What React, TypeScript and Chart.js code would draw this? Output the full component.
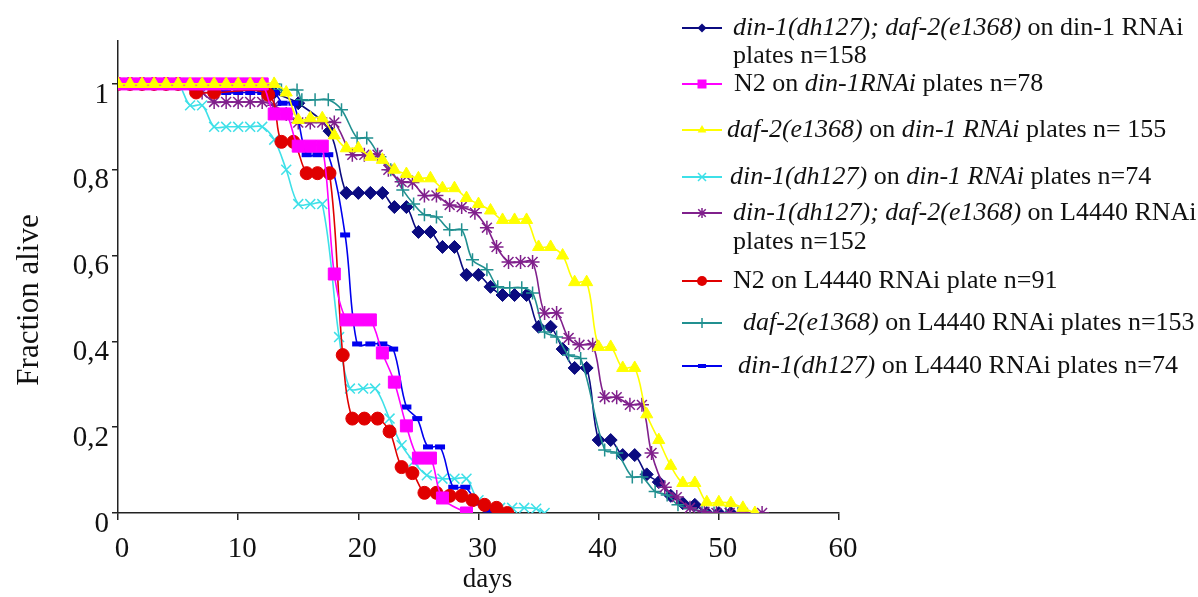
import React, { useEffect, useRef } from 'react';
import { Chart, registerables } from 'chart.js';

Chart.register(...registerables);

// ---- axis ticks ----
const xTickValues = [0, 10, 20, 30, 40, 50, 60];
const yTickValues = [0, 0.2, 0.4, 0.6, 0.8, 1];
const yTickLabels = ['0', '0,2', '0,4', '0,6', '0,8', '1'];

// ---- series data (days, fraction alive) ----
const s1Days = [0, 1, 2, 3, 4, 5, 6, 7, 8, 9, 10, 11, 12, 13, 15, 17.6, 19, 20, 21, 22, 23, 24, 25, 26, 27, 28, 29, 30, 31, 32, 33, 34, 35, 36, 37, 38, 39, 40, 41, 42, 43, 44, 45, 46, 47, 48, 49, 50, 51, 52];
const s1Alive = [1, 1, 1, 1, 1, 1, 1, 1, 1, 1, 1, 1, 1, 0.98, 0.955, 0.89, 0.746, 0.746, 0.746, 0.746, 0.713, 0.713, 0.655, 0.655, 0.62, 0.62, 0.555, 0.555, 0.527, 0.508, 0.508, 0.508, 0.434, 0.434, 0.382, 0.338, 0.338, 0.17, 0.17, 0.135, 0.135, 0.09, 0.072, 0.04, 0.023, 0.019, 0, 0, 0, 0];

const s2Days = [0, 1, 2, 3, 4, 5, 6, 7, 8, 9, 10, 11, 12, 13, 14, 15, 16, 17, 18, 19, 20, 21, 22, 23, 24, 25, 26, 27, 29];
const s2Alive = [1, 1, 1, 1, 1, 1, 1, 1, 1, 1, 1, 1, 1, 0.93, 0.93, 0.855, 0.855, 0.855, 0.557, 0.45, 0.45, 0.45, 0.373, 0.305, 0.203, 0.128, 0.128, 0.035, 0];

const s3Days = [0, 1, 2, 3, 4, 5, 6, 7, 8, 9, 10, 11, 12, 13, 14, 15, 16, 17, 18, 19, 20, 21, 22, 23, 24, 25, 26, 27, 28, 29, 30, 31, 32, 33, 34, 35, 36, 37, 38, 39, 40, 41, 42, 43, 44, 45, 46, 47, 48, 49, 50, 51, 52, 53];
const s3Alive = [1, 1, 1, 1, 1, 1, 1, 1, 1, 1, 1, 1, 1, 1, 0.98, 0.916, 0.92, 0.92, 0.88, 0.85, 0.85, 0.83, 0.823, 0.8, 0.79, 0.78, 0.78, 0.757, 0.757, 0.734, 0.72, 0.705, 0.683, 0.683, 0.683, 0.62, 0.62, 0.6, 0.538, 0.538, 0.387, 0.387, 0.338, 0.338, 0.23, 0.17, 0.11, 0.07, 0.07, 0.025, 0.025, 0.023, 0.012, 0];

const s4Days = [0, 1, 2, 3, 4, 5, 6, 7, 8, 9, 10, 11, 12, 13, 14, 15, 16, 17, 18.4, 19.3, 20.4, 21.4, 22.6, 23.6, 24.6, 25.7, 27, 28, 29, 30, 31.8, 32.8, 33.8, 34.8, 35.5];
const s4Alive = [1, 1, 1, 1, 1, 1, 0.95, 0.95, 0.9, 0.9, 0.9, 0.9, 0.9, 0.87, 0.8, 0.72, 0.72, 0.72, 0.41, 0.29, 0.29, 0.29, 0.22, 0.158, 0.12, 0.088, 0.08, 0.08, 0.08, 0.03, 0.012, 0.012, 0.012, 0.01, 0];

const s5Days = [0, 1, 2, 3, 4, 5, 6, 7, 8, 9, 10, 11, 12, 13, 14, 15, 16, 17, 18, 19.5, 20.5, 21.6, 22.5, 23.6, 24.5, 25.5, 26.5, 27.6, 28.6, 29.7, 30.7, 31.5, 32.5, 33.5, 34.5, 35.5, 36.5, 37.5, 38.4, 39.5, 40.5, 41.5, 42.6, 43.6, 44.4, 45.5, 46.5, 47.6, 48.8, 49.8, 50.9, 52, 53.6];
const s5Alive = [1, 1, 1, 1, 1, 1, 1, 0.98, 0.958, 0.958, 0.958, 0.958, 0.958, 0.95, 0.93, 0.91, 0.91, 0.91, 0.91, 0.835, 0.835, 0.835, 0.8, 0.772, 0.77, 0.74, 0.74, 0.718, 0.713, 0.7, 0.665, 0.62, 0.585, 0.585, 0.585, 0.466, 0.466, 0.408, 0.392, 0.392, 0.27, 0.27, 0.252, 0.252, 0.14, 0.06, 0.037, 0.012, 0.003, 0, 0, 0, 0];

const s6Days = [0, 1, 2, 3, 4, 5, 6.5, 8, 12.5, 13.6, 14.6, 15.7, 16.6, 17.6, 18.7, 19.5, 20.5, 21.6, 22.6, 23.6, 24.5, 25.5, 26.5, 27.6, 28.6, 29.5, 30.5, 31.5, 32.4];
const s6Alive = [1, 1, 1, 1, 1, 1, 0.98, 0.98, 0.975, 0.865, 0.865, 0.792, 0.792, 0.792, 0.368, 0.22, 0.22, 0.22, 0.19, 0.107, 0.093, 0.047, 0.047, 0.04, 0.04, 0.03, 0.019, 0.012, 0];

const s7Days = [0, 1, 2, 3, 4, 5, 6, 7, 8, 9, 10, 11, 12, 13, 13.6, 14.9, 15.3, 16.4, 17.5, 18.6, 19.9, 20.7, 21.8, 22.7, 23.7, 24.6, 25.5, 26.5, 27.6, 28.6, 29.5, 30.7, 31.6, 32.6, 33.6, 34.5, 35.5, 36.5, 37.5, 38.5, 40.5, 41.5, 42.8, 43.6, 44.7, 45.7, 46.6, 47.6, 48.6, 49.6, 50.6, 51.6];
const s7Alive = [1, 1, 1, 1, 1, 1, 1, 1, 1, 1, 1, 1, 1, 1, 0.986, 0.986, 0.963, 0.963, 0.963, 0.94, 0.874, 0.874, 0.83, 0.8, 0.753, 0.72, 0.695, 0.69, 0.66, 0.66, 0.59, 0.567, 0.527, 0.525, 0.525, 0.513, 0.422, 0.41, 0.368, 0.36, 0.147, 0.14, 0.084, 0.084, 0.05, 0.042, 0.019, 0.01, 0.005, 0, 0, 0];

const s8Days = [0, 1, 2, 3, 4, 5, 6, 7, 8, 9, 10, 11, 12, 13, 13.7, 14.6, 15.7, 16.6, 17.5, 18.9, 19.9, 21, 22, 22.9, 24, 24.9, 25.8, 26.8, 27.9, 28.9, 29.9, 30.8, 31.8];
const s8Alive = [0.995, 0.995, 0.995, 0.995, 0.995, 0.995, 0.995, 0.995, 0.995, 0.98, 0.98, 0.98, 0.98, 0.98, 0.955, 0.955, 0.835, 0.835, 0.835, 0.648, 0.394, 0.394, 0.394, 0.382, 0.247, 0.22, 0.154, 0.154, 0.06, 0.06, 0.023, 0.007, 0];

// ---- legend texts: [text, italic] segments per line ----
const legend1 = [[['din-1(dh127); daf-2(e1368)', true], [' on din-1 RNAi', false]], [['plates n=158', false]]];
const legend2 = [[['N2 on ', false], ['din-1RNAi', true], [' plates n=78', false]]];
const legend3 = [[['daf-2(e1368)', true], [' on ', false], ['din-1 RNAi', true], [' plates n= 155', false]]];
const legend4 = [[['din-1(dh127)', true], [' on ', false], ['din-1 RNAi', true], [' plates n=74', false]]];
const legend5 = [[['din-1(dh127); daf-2(e1368)', true], [' on L4440 RNAi', false]], [['plates n=152', false]]];
const legend6 = [[['N2 on L4440 RNAi plate n=91', false]]];
const legend7 = [[['daf-2(e1368)', true], [' on L4440 RNAi plates n=153', false]]];
const legend8 = [[['din-1(dh127)', true], [' on L4440 RNAi plates n=74', false]]];

const FONT = '"Liberation Serif", "Times New Roman", serif';

type Style = {
  color: string;
  pointStyle: string;
  radius: number;
  pointBorderWidth: number;
  order: number;
  legendY: number[];
  legendTextX: number;
  legendRadius: number;
};

const styles: Style[] = [
  { color: '#0b0b80', pointStyle: 'rectRot', radius: 6.5, pointBorderWidth: 1, order: 8, legendY: [28, 56], legendTextX: 733, legendRadius: 4.5 },
  { color: '#ff00ff', pointStyle: 'rect', radius: 8.5, pointBorderWidth: 1, order: 2, legendY: [84], legendTextX: 734, legendRadius: 6 },
  { color: '#ffff00', pointStyle: 'triangle', radius: 7, pointBorderWidth: 1, order: 1, legendY: [130], legendTextX: 727, legendRadius: 5 },
  { color: '#3ee0e8', pointStyle: 'crossRot', radius: 7, pointBorderWidth: 1.5, order: 5, legendY: [177], legendTextX: 730, legendRadius: 5 },
  { color: '#80208c', pointStyle: 'star', radius: 7, pointBorderWidth: 1.5, order: 6, legendY: [213, 242], legendTextX: 733, legendRadius: 5 },
  { color: '#e00000', pointStyle: 'circle', radius: 6.5, pointBorderWidth: 1, order: 3, legendY: [281], legendTextX: 733, legendRadius: 5 },
  { color: '#219090', pointStyle: 'cross', radius: 6.5, pointBorderWidth: 1.5, order: 7, legendY: [323], legendTextX: 743, legendRadius: 5 },
  { color: '#0000ee', pointStyle: 'line', radius: 5, pointBorderWidth: 5, order: 4, legendY: [366], legendTextX: 738, legendRadius: 4 },
];

const seriesDays = [s1Days, s2Days, s3Days, s4Days, s5Days, s6Days, s7Days, s8Days];
const seriesAlive = [s1Alive, s2Alive, s3Alive, s4Alive, s5Alive, s6Alive, s7Alive, s8Alive];
const legends = [legend1, legend2, legend3, legend4, legend5, legend6, legend7, legend8];

function drawMarker(ctx: CanvasRenderingContext2D, style: string, x: number, y: number, r: number, color: string) {
  ctx.save();
  ctx.fillStyle = color;
  ctx.strokeStyle = color;
  ctx.lineWidth = 1.5;
  ctx.beginPath();
  if (style === 'rectRot') {
    ctx.moveTo(x, y - r); ctx.lineTo(x + r, y); ctx.lineTo(x, y + r); ctx.lineTo(x - r, y); ctx.closePath(); ctx.fill();
  } else if (style === 'rect') {
    ctx.rect(x - r * 0.75, y - r * 0.75, r * 1.5, r * 1.5); ctx.fill();
  } else if (style === 'triangle') {
    ctx.moveTo(x, y - r); ctx.lineTo(x + r * 0.87, y + r * 0.5); ctx.lineTo(x - r * 0.87, y + r * 0.5); ctx.closePath(); ctx.fill();
  } else if (style === 'circle') {
    ctx.arc(x, y, r, 0, Math.PI * 2); ctx.fill();
  } else if (style === 'crossRot') {
    const d = r * 0.8;
    ctx.moveTo(x - d, y - d); ctx.lineTo(x + d, y + d); ctx.moveTo(x + d, y - d); ctx.lineTo(x - d, y + d); ctx.stroke();
  } else if (style === 'star') {
    const d = r * 0.75;
    ctx.moveTo(x - d, y - d); ctx.lineTo(x + d, y + d); ctx.moveTo(x + d, y - d); ctx.lineTo(x - d, y + d);
    ctx.moveTo(x, y - r); ctx.lineTo(x, y + r); ctx.stroke();
  } else if (style === 'cross') {
    ctx.moveTo(x, y - r); ctx.lineTo(x, y + r); ctx.moveTo(x - r, y); ctx.lineTo(x + r, y); ctx.stroke();
  } else if (style === 'line') {
    ctx.rect(x - r, y - 2, 2 * r, 4); ctx.fill();
  }
  ctx.restore();
}

const overlayPlugin = {
  id: 'overlay',
  afterDraw(chart: any) {
    const ctx: CanvasRenderingContext2D = chart.ctx;
    const area = chart.chartArea;
    ctx.save();
    ctx.fillStyle = '#111';
    ctx.textBaseline = 'middle';
    // axis titles
    ctx.font = `27px ${FONT}`;
    ctx.textAlign = 'center';
    ctx.fillText('days', (area.left + area.right) / 2 + 9, 580);
    ctx.save();
    ctx.translate(30, 300);
    ctx.rotate(-Math.PI / 2);
    ctx.font = `31px ${FONT}`;
    ctx.fillText('Fraction alive', 0, 0);
    ctx.restore();
    // legend
    ctx.textAlign = 'left';
    legends.forEach((lines, i) => {
      const st = styles[i];
      const ly = st.legendY[0];
      ctx.save();
      ctx.strokeStyle = st.color;
      ctx.lineWidth = 2;
      ctx.beginPath();
      ctx.moveTo(682, ly);
      ctx.lineTo(722, ly);
      ctx.stroke();
      ctx.restore();
      drawMarker(ctx, st.pointStyle, 702, ly, st.legendRadius, st.color);
      lines.forEach((segs: any[], li: number) => {
        let x = st.legendTextX;
        const y = st.legendY[li];
        segs.forEach(([text, italic]: [string, boolean]) => {
          ctx.font = `${italic ? 'italic ' : ''}26px ${FONT}`;
          ctx.fillStyle = '#111';
          ctx.fillText(text, x, y);
          x += ctx.measureText(text).width;
        });
      });
    });
    ctx.restore();
  },
};

export default function App() {
  const canvasRef = useRef<HTMLCanvasElement>(null);

  useEffect(() => {
    if (!canvasRef.current) return;
    const datasets = styles.map((st, i) => ({
      label: `series${i + 1}`,
      data: seriesDays[i].map((d, j) => ({ x: d, y: seriesAlive[i][j] })),
      borderColor: st.color,
      backgroundColor: st.color,
      borderWidth: 1.6,
      pointStyle: st.pointStyle as any,
      pointRadius: st.radius,
      pointBorderWidth: st.pointBorderWidth,
      pointBackgroundColor: st.color,
      pointBorderColor: st.color,
      tension: 0.35,
      order: st.order,
      fill: false,
    }));

    const chart = new Chart(canvasRef.current, {
      type: 'line',
      data: { datasets },
      plugins: [overlayPlugin],
      options: {
        animation: false,
        responsive: true,
        maintainAspectRatio: false,
        layout: { padding: { top: 41, right: 359, left: 0, bottom: 0 } },
        plugins: { legend: { display: false }, tooltip: { enabled: false } },
        scales: {
          x: {
            type: 'linear',
            min: 0,
            max: 60,
            afterFit: (scale: any) => { scale.height = 84; },
            afterBuildTicks: (scale: any) => { scale.ticks = xTickValues.map((v) => ({ value: v })); },
            ticks: {
              color: '#111',
              font: { family: FONT, size: 29 },
              padding: 12,
              labelOffset: 4,
              maxRotation: 0,
              callback: (v: any) => String(v),
            },
            grid: { drawOnChartArea: false, drawTicks: true, tickLength: 7, color: '#222', lineWidth: 1.5 },
            border: { display: true, color: '#222', width: 1.5 },
          },
          y: {
            type: 'linear',
            min: 0,
            max: 1.1,
            afterFit: (scale: any) => { scale.width = 118; },
            afterBuildTicks: (scale: any) => { scale.ticks = yTickValues.map((v) => ({ value: v })); },
            ticks: {
              color: '#111',
              font: { family: FONT, size: 29 },
              padding: 3,
              labelOffset: 11,
              callback: (v: any) => {
                const idx = yTickValues.findIndex((t) => Math.abs(t - v) < 1e-6);
                return idx >= 0 ? yTickLabels[idx] : '';
              },
            },
            grid: { drawOnChartArea: false, drawTicks: true, tickLength: 6, color: '#222', lineWidth: 1.5 },
            border: { display: true, color: '#222', width: 1.5 },
          },
        },
      },
    });
    return () => chart.destroy();
  }, []);

  return (
    <div style={{ position: 'fixed', left: 0, top: 0, width: 1198, height: 597, background: '#fff' }}>
      <canvas ref={canvasRef} />
    </div>
  );
}
